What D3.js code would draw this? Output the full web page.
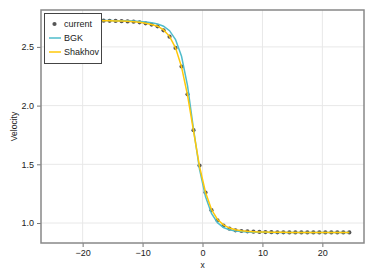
<!DOCTYPE html>
<html>
<head>
<meta charset="utf-8">
<script src="https://cdn.jsdelivr.net/npm/d3@7"></script>
<style>
  body { margin: 0; background: #fff; }
  svg { display: block; font-family: "Liberation Sans", Arial, sans-serif; }
</style>
</head>
<body>
<div id="chart"></div>
<script>
// grid positions (cell centres)
const xs = d3.range(-24.5, 25, 1);

// "current" solver samples
const current = [
  2.724, 2.724, 2.724, 2.724, 2.724, 2.724, 2.724, 2.724, 2.723, 2.722,
  2.721, 2.719, 2.717, 2.715, 2.709, 2.701, 2.690, 2.675, 2.641, 2.587,
  2.491, 2.333, 2.096, 1.791, 1.489, 1.260, 1.109, 1.023, 0.978, 0.952,
  0.938, 0.932, 0.929, 0.926, 0.924, 0.923, 0.922, 0.921, 0.921, 0.920,
  0.920, 0.920, 0.920, 0.920, 0.920, 0.920, 0.920, 0.920, 0.920, 0.920
];

const bgk = [
  2.724, 2.724, 2.724, 2.724, 2.724, 2.724, 2.724, 2.724, 2.724, 2.724,
  2.723, 2.723, 2.722, 2.720, 2.717, 2.713, 2.706, 2.696, 2.676, 2.638,
  2.562, 2.420, 2.170, 1.800, 1.460, 1.225, 1.082, 1.003, 0.962, 0.942,
  0.932, 0.927, 0.924, 0.922, 0.921, 0.921, 0.920, 0.920, 0.920, 0.920,
  0.920, 0.920, 0.920, 0.920, 0.920, 0.920, 0.920, 0.920, 0.920, 0.920
];

const shakhov = [
  2.724, 2.724, 2.724, 2.724, 2.724, 2.724, 2.724, 2.724, 2.723, 2.722,
  2.721, 2.720, 2.718, 2.715, 2.710, 2.702, 2.691, 2.676, 2.645, 2.590,
  2.492, 2.330, 2.090, 1.785, 1.482, 1.262, 1.115, 1.030, 0.984, 0.957,
  0.942, 0.934, 0.929, 0.926, 0.924, 0.923, 0.922, 0.921, 0.921, 0.920,
  0.920, 0.920, 0.920, 0.920, 0.920, 0.920, 0.920, 0.920, 0.920, 0.920
];

const xTicks = [-20, -10, 0, 10, 20];
const yTicks = [1.0, 1.5, 2.0, 2.5];
const seriesNames = ["current", "BGK", "Shakhov"];
const colors = { current: "#555555", BGK: "#4fbccb", Shakhov: "#ffc80a" };

const W = 373, H = 280;
const m = { left: 41, right: 9, top: 10, bottom: 37 };

const svg = d3.select("#chart").append("svg")
  .attr("width", W).attr("height", H);

// autolimits with 5% margin, like the original
function pad(ext) {
  const r = ext[1] - ext[0];
  return [ext[0] - 0.05 * r, ext[1] + 0.05 * r];
}
const allY = current.concat(bgk, shakhov);
const x = d3.scaleLinear().domain(pad(d3.extent(xs))).range([m.left, W - m.right]);
const y = d3.scaleLinear().domain(pad(d3.extent(allY))).range([H - m.bottom, m.top]);

const fmtX = d => d3.format("d")(d).replace("-", "\u2212");
const fmtY = d3.format(".1f");

// grid
const grid = svg.append("g");
grid.selectAll("line.gx").data(xTicks).enter().append("line")
  .attr("x1", d => x(d)).attr("x2", d => x(d))
  .attr("y1", m.top).attr("y2", H - m.bottom)
  .attr("stroke", "#e8e8e8").attr("stroke-width", 1);
grid.selectAll("line.gy").data(yTicks).enter().append("line")
  .attr("y1", d => y(d)).attr("y2", d => y(d))
  .attr("x1", m.left).attr("x2", W - m.right)
  .attr("stroke", "#e8e8e8").attr("stroke-width", 1);

// axes
const xAxis = svg.append("g")
  .attr("transform", "translate(0," + (H - m.bottom) + ")")
  .call(d3.axisBottom(x).tickValues(xTicks).tickFormat(fmtX).tickSizeOuter(0).tickSize(4).tickPadding(3));
const yAxis = svg.append("g")
  .attr("transform", "translate(" + m.left + ",0)")
  .call(d3.axisLeft(y).tickValues(yTicks).tickFormat(fmtY).tickSizeOuter(0).tickSize(4).tickPadding(3));
[xAxis, yAxis].forEach(a => {
  a.select(".domain").remove();
  a.selectAll(".tick line").attr("stroke", "#777");
  a.selectAll(".tick text").attr("fill", "#222").attr("font-size", "9px")
    .attr("font-family", "Liberation Sans, Arial, sans-serif");
});

// frame
svg.append("rect")
  .attr("x", m.left).attr("y", m.top)
  .attr("width", W - m.left - m.right).attr("height", H - m.top - m.bottom)
  .attr("fill", "none").attr("stroke", "#888").attr("stroke-width", 1.5);

// axis labels
svg.append("text")
  .attr("x", (m.left + W - m.right) / 2).attr("y", 268)
  .attr("text-anchor", "middle").attr("font-size", "8.5px").attr("fill", "#222")
  .text("x");
svg.append("text")
  .attr("transform", "translate(17," + ((m.top + H - m.bottom) / 2) + ") rotate(-90)")
  .attr("text-anchor", "middle").attr("font-size", "8.5px").attr("fill", "#222")
  .text("Velocity");

// scatter (drawn first, lines over it)
svg.append("g").selectAll("circle").data(xs).enter().append("circle")
  .attr("cx", d => x(d))
  .attr("cy", (d, i) => y(current[i]))
  .attr("r", 2.1)
  .attr("fill", colors.current);

const line = d3.line()
  .x((d, i) => x(xs[i]))
  .y(d => y(d));

svg.append("path").datum(bgk)
  .attr("d", line).attr("fill", "none")
  .attr("stroke", colors.BGK).attr("stroke-width", 1.5);
svg.append("path").datum(shakhov)
  .attr("d", line).attr("fill", "none")
  .attr("stroke", colors.Shakhov).attr("stroke-width", 1.5);

// legend
const lg = svg.append("g").attr("transform", "translate(44,13)");
lg.append("rect")
  .attr("x", 0.5).attr("y", 0.5).attr("width", 57).attr("height", 50)
  .attr("fill", "#fff").attr("stroke", "#444").attr("stroke-width", 1);
seriesNames.forEach((name, i) => {
  const cy = 11 + i * 14;
  if (name === "current") {
    lg.append("circle").attr("cx", 10.5).attr("cy", cy).attr("r", 2.1).attr("fill", colors.current);
  } else {
    lg.append("line").attr("x1", 5).attr("x2", 17).attr("y1", cy).attr("y2", cy)
      .attr("stroke", colors[name]).attr("stroke-width", 1.5);
  }
  lg.append("text").attr("x", 20).attr("y", cy + 3.3)
    .attr("font-size", "9px").attr("fill", "#222").text(name);
});
</script>
</body>
</html>
